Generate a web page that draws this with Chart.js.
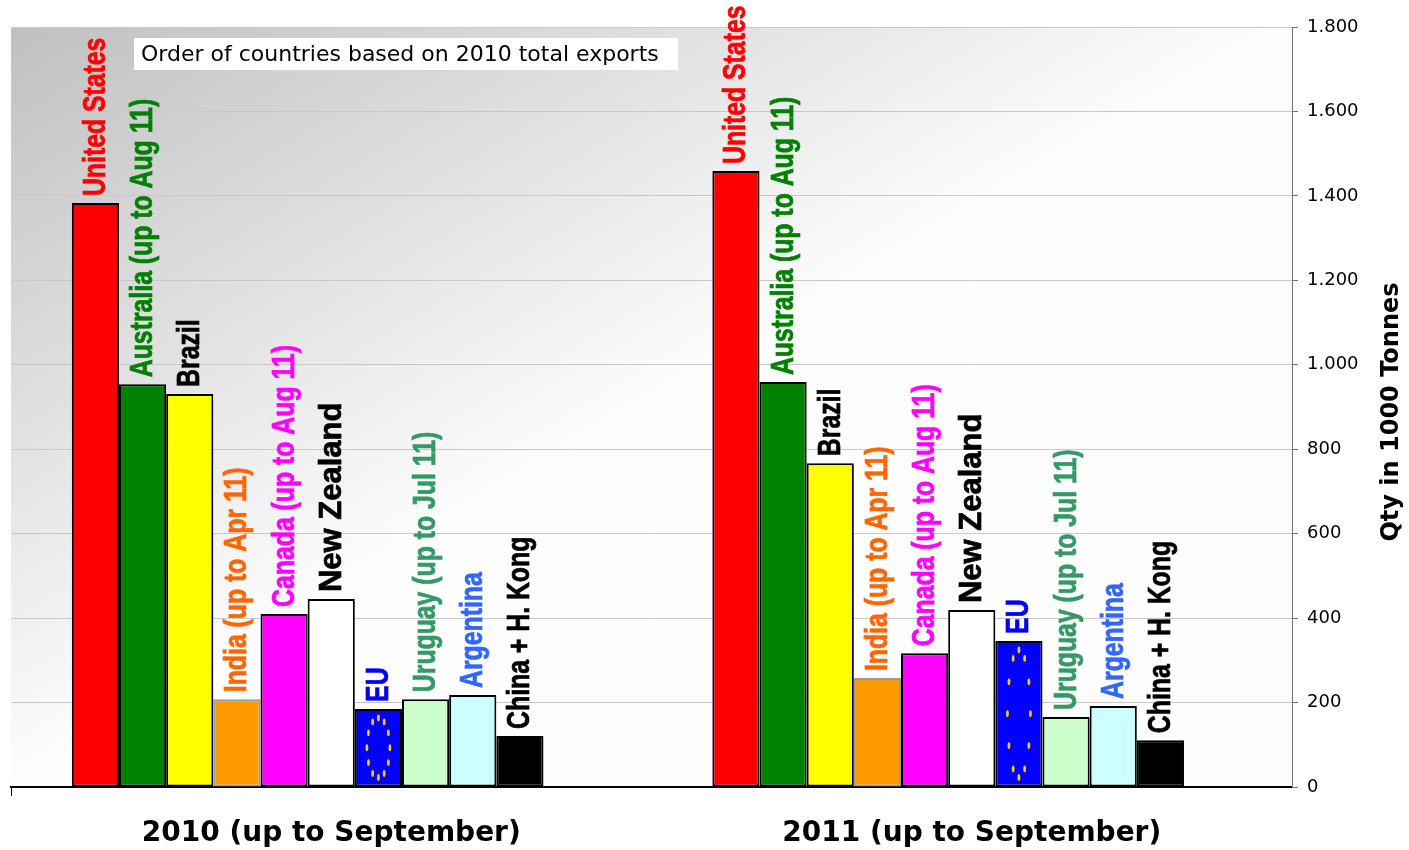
<!DOCTYPE html>
<html>
<head>
<meta charset="utf-8">
<script src="https://cdn.jsdelivr.net/npm/chart.js@4/dist/chart.umd.min.js"></script>
<style>
  html, body { margin: 0; padding: 0; background: #fff; }
  #wrap { width: 1409px; height: 850px; }
</style>
</head>
<body>
<div id="wrap"><canvas id="exports"></canvas></div>
<script>
// periods on the x axis
const periods = ['2010 (up to September)', '2011 (up to September)'];

// countries, in order of 2010 total exports
const countries = [
    'United States',
    'Australia (up to Aug 11)',
    'Brazil',
    'India (up to Apr 11)',
    'Canada (up to Aug 11)',
    'New Zealand',
    'EU',
    'Uruguay (up to Jul 11)',
    'Argentina',
    'China + H. Kong'
];

// qty in 1000 tonnes
const exports2010 = [1383, 954, 931, 208, 410, 445, 185, 208, 218, 121];
const exports2011 = [1459, 959, 767, 258, 317, 419, 346, 166, 192, 111];

const yTicks = [0, 200, 400, 600, 800, 1000, 1200, 1400, 1600, 1800];

const barColors = ['#FF0000', '#008000', '#FFFF00', '#FF9900', '#FF00FF',
    '#FFFFFF', '#0000FF', '#CCFFCC', '#CCFFFF', '#000000'];
const labelColors = ['#FF0000', '#008000', '#000000', '#FF6600', '#FF00FF',
    '#000000', '#0000FF', '#339966', '#3366FF', '#000000'];
const borderColors = ['#000', '#000', '#000', '#999', '#000',
    '#000', '#000', '#000', '#000', '#000'];

function dotted(v) {
    return String(v).replace(/\B(?=(\d{3})+(?!\d))/g, '.');
}

const datasets = countries.map((name, i) => ({
    label: name,
    data: [exports2010[i], exports2011[i]],
    backgroundColor: barColors[i],
    borderColor: borderColors[i],
    borderWidth: 2,
    borderSkipped: false,
    barPercentage: 1,
    categoryPercentage: 0.81
}));
// empty slot after China, the group is not centred on the category
datasets.push({
    label: '',
    data: [null, null],
    barPercentage: 1,
    categoryPercentage: 0.81
});

const backdrop = {
    id: 'backdrop',
    beforeDraw(chart) {
        const { ctx, chartArea: a } = chart;
        const w = a.right - a.left, h = a.bottom - a.top;
        const t = 1 / (1 / (w * w) + 1 / (h * h));
        const g = ctx.createLinearGradient(a.left, a.top, a.left + t / w, a.top + t / h);
        g.addColorStop(0, '#c0c0c0');
        g.addColorStop(1, '#fdfdfd');
        ctx.save();
        ctx.fillStyle = g;
        ctx.fillRect(a.left, a.top, w, h);
        ctx.restore();
    }
};

const barLabels = {
    id: 'barLabels',
    afterDatasetsDraw(chart) {
        const { ctx, chartArea: a } = chart;
        ctx.save();
        countries.forEach((name, i) => {
            const meta = chart.getDatasetMeta(i);
            meta.data.forEach(bar => {
                // EU flag stars
                if (name === 'EU') {
                    const cy = (bar.y + bar.base) / 2;
                    const ry = (bar.base - bar.y) / 2 - 9;
                    const rx = 11.5;
                    ctx.fillStyle = '#FFCC00';
                    for (let k = 0; k < 12; k++) {
                        const ang = k * Math.PI / 6;
                        const sx = bar.x + rx * Math.cos(ang);
                        const sy = cy + ry * Math.sin(ang);
                        ctx.beginPath();
                        ctx.ellipse(sx, sy, 1.4, 3.4, 0, 0, Math.PI * 2);
                        ctx.fill();
                    }
                }
                ctx.save();
                ctx.translate(bar.x, bar.y - 7);
                ctx.rotate(-Math.PI / 2);
                // New Zealand is set in the wide face, the rest in a narrow one
                if (name !== 'New Zealand') ctx.scale(0.8, 1);
                ctx.font = 'bold 31px "Liberation Sans", Arial, sans-serif';
                ctx.textAlign = 'left';
                ctx.textBaseline = 'middle';
                ctx.fillStyle = labelColors[i];
                ctx.strokeStyle = labelColors[i];
                ctx.lineWidth = 0.7;
                ctx.fillText(name, 0, 1);
                ctx.strokeText(name, 0, 1);
                ctx.restore();
            });
        });

        // note box
        ctx.font = '22px "DejaVu Sans", Verdana, sans-serif';
        ctx.fillStyle = '#fff';
        ctx.fillRect(a.left + 123, a.top + 11, 544, 32);
        ctx.fillStyle = '#000';
        ctx.textAlign = 'left';
        ctx.textBaseline = 'middle';
        ctx.fillText('Order of countries based on 2010 total exports', a.left + 130, a.top + 28);

        // value axis title, reads bottom to top
        ctx.translate(1392, (a.top + a.bottom) / 2 + 5);
        ctx.rotate(-Math.PI / 2);
        ctx.font = 'bold 24px "DejaVu Sans", Verdana, sans-serif';
        ctx.textAlign = 'center';
        ctx.fillText('Qty in 1000 Tonnes', 0, 0);
        ctx.restore();
    }
};

new Chart(document.getElementById('exports'), {
    type: 'bar',
    data: { labels: periods, datasets: datasets },
    options: {
        responsive: true,
        maintainAspectRatio: false,
        animation: false,
        layout: { padding: { left: 11, top: 27, right: 0, bottom: 0 } },
        plugins: {
            legend: { display: false },
            tooltip: { enabled: false }
        },
        scales: {
            x: {
                offset: true,
                grid: {
                    offset: true,
                    drawOnChartArea: false,
                    tickLength: 9,
                    color: c => c.index === 0 ? '#000' : 'rgba(0,0,0,0)'
                },
                border: { color: '#000', width: 2 },
                ticks: {
                    color: '#000',
                    padding: 21,
                    font: { family: '"DejaVu Sans", Verdana, sans-serif', size: 28, weight: 'bold' }
                },
                afterFit: s => { s.height = 63; }
            },
            y: {
                position: 'right',
                min: 0,
                max: 1800,
                afterBuildTicks: s => { s.ticks = yTicks.map(v => ({ value: v })); },
                grid: {
                    color: '#c8c8c8',
                    tickColor: '#707070',
                    tickLength: 6
                },
                border: { color: '#707070', width: 1 },
                ticks: {
                    color: '#000',
                    padding: 9,
                    font: { family: '"DejaVu Sans", Verdana, sans-serif', size: 18 },
                    callback: v => dotted(v)
                },
                afterFit: s => { s.width = 117; }
            }
        }
    },
    plugins: [backdrop, barLabels]
});
</script>
</body>
</html>
